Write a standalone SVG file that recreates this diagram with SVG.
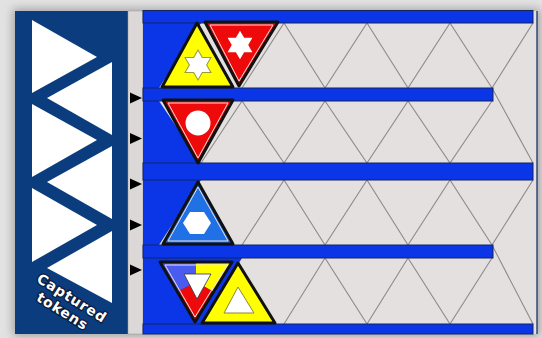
<svg xmlns="http://www.w3.org/2000/svg" width="542" height="338" viewBox="0 0 542 338">
  <defs>
    <filter id="sh" x="-10%" y="-10%" width="120%" height="120%">
      <feGaussianBlur stdDeviation="5"/>
    </filter>
    <path id="star" d="M0,-13 L3.75,-6.5 L11.26,-6.5 L7.5,0 L11.26,6.5 L3.75,6.5 L0,13 L-3.75,6.5 L-11.26,6.5 L-7.5,0 L-11.26,-6.5 L-3.75,-6.5 Z"/>
    <style>
      .navy{fill:#0b3d7e}
      .blue{fill:#0b36e8}
      .bar{fill:#0b36e8;stroke:#12245e;stroke-width:1}
      .cell{fill:#e4e0e0}
      .grid{fill:none;stroke:#8c8a8a;stroke-width:1.1}
      .wtri{fill:#ffffff}
      .arrow{fill:#000000}
      .tok{stroke:#111111;stroke-width:3;stroke-linejoin:round}
      .inner{fill:none;stroke:#f2dede;stroke-width:1;stroke-linejoin:round}
      .sym{fill:#ffffff}
      .cap{font-family:"DejaVu Sans","Liberation Sans",sans-serif;font-weight:bold;font-size:14px;fill:#ffffff;stroke:#0a1a3c;stroke-width:2.5;paint-order:stroke;text-anchor:middle;letter-spacing:0.8px}
    </style>
  </defs>

  <!-- background and shadow -->
  <rect x="0" y="0" width="542" height="338" fill="#e2e2e2"/>
  <rect x="13" y="9" width="527" height="327" fill="#6a6a6a" opacity="0.55" filter="url(#sh)"/>

  <!-- left captured panel -->
  <g id="captured-panel">
    <rect x="15" y="11" width="113" height="323" class="navy"/>
    <polygon class="wtri" points="32,20 97,57 32,93"/>
    <polygon class="wtri" points="32,104 97,140 32,177"/>
    <polygon class="wtri" points="32,188 97,225 32,262"/>
    <polygon class="wtri" points="112,62 47,98 112,135"/>
    <polygon class="wtri" points="112,146 47,182 112,219"/>
    <polygon class="wtri" points="112,231 47,268 112,303"/>
    <g transform="translate(72,298) rotate(32)">
      <text class="cap" x="0" y="5">Captured</text>
      <text class="cap" x="-1" y="21">tokens</text>
    </g>
  </g>

  <!-- separator strip with arrows -->
  <g id="arrow-strip">
    <rect x="128" y="11" width="15" height="323" fill="#dcd8d8" stroke="#9a9a9a" stroke-width="0.5"/>
    <polygon class="arrow" points="130,92.5 142,98 130,103.5"/>
    <polygon class="arrow" points="130,133 142,138.5 130,144"/>
    <polygon class="arrow" points="130,178.5 142,184 130,189.5"/>
    <polygon class="arrow" points="130,219.5 142,225 130,230.5"/>
    <polygon class="arrow" points="130,264.5 142,270 130,275.5"/>
  </g>

  <!-- main track board -->
  <g id="board">
    <rect x="143" y="11" width="394" height="323" class="blue"/>
    <path class="cell" d="M201,23 H537 V163 H201 L159,101 V88 Z"/>
    <path class="cell" d="M201,180 H537 V324 H201 L242,258 L242,245 L159,245 Z"/>
    <rect x="533" y="11" width="4" height="323" class="cell"/>
  </g>

  <g id="connectors">
    <polyline class="grid" points="242,88 284,23 325,88 367,23 408,88 450,23 492,88 533,23"/>
    <polyline class="grid" points="492,88 533,163"/>
    <polyline class="grid" points="201,163 242,101 284,163 325,101 367,163 408,101 450,163 492,101"/>
    <polyline class="grid" points="242,245 284,180 325,245 367,180 408,245 450,180 492,245 533,180"/>
    <polyline class="grid" points="492,245 533,324"/>
    <polyline class="grid" points="284,324 325,258 367,324 408,258 450,324 492,258"/>
  </g>

  <g id="bars">
    <rect x="143" y="10.5" width="390" height="12.5" class="bar"/>
    <rect x="143" y="88" width="350" height="13" class="bar"/>
    <rect x="143" y="163" width="390" height="17" class="bar"/>
    <rect x="143" y="245" width="350" height="13" class="bar"/>
    <rect x="143" y="324" width="390" height="10" class="bar"/>
    <line x1="537" y1="11" x2="537" y2="334" stroke="#12245e" stroke-width="1.2"/>
  </g>

  <!-- tokens -->
  <g id="token-yellow-star">
    <polygon class="tok" fill="#ffff00" points="162,87 197,23 233,87"/>
    <use href="#star" transform="translate(198,65) scale(1.15)" fill="#ffffff" stroke="#9a9a3a" stroke-width="0.9"/>
  </g>
  <g id="token-red-star">
    <polygon class="tok" fill="#ee0a0a" points="205,22 278,22 239,86"/>
    <polygon class="inner" points="210,25 273,25 239,81"/>
    <use href="#star" transform="translate(240,45) scale(1.1)" fill="#ffffff"/>
  </g>
  <g id="token-red-circle">
    <polygon class="tok" fill="#ee0a0a" points="163,100 233,100 198,163"/>
    <polygon class="inner" points="168,103 228,103 198,158"/>
    <circle cx="198" cy="123" r="12.5" class="sym"/>
  </g>
  <g id="token-blue-hexagon">
    <polygon class="tok" fill="#2070e6" points="163,244 198,182 233,244"/>
    <polygon class="inner" points="168,241 198,187 228,241"/>
    <polygon class="sym" points="211,223 204,234 190,234 183,223 190,212 204,212"/>
  </g>
  <g id="token-split">
    <polygon fill="#4a5cf0" points="160,262 196,262 196,282 177,292"/>
    <polygon fill="#ffff00" points="196,262 232,262 214,292 196,282"/>
    <polygon fill="#ee0a0a" points="177,292 196,282 214,292 195,322"/>
    <polygon class="tok" fill="none" points="160,262 232,262 195,322"/>
    <polygon class="inner" points="165,265 227,265 195,317"/>
    <polygon fill="#ffffff" stroke="#333333" stroke-width="0.8" points="184,274 211,274 197,299"/>
  </g>
  <g id="token-yellow-triangle">
    <polygon class="tok" fill="#ffff00" points="202,323 238,263 275,323"/>
    <polygon fill="#ffffff" stroke="#8a8a30" stroke-width="1" points="224,313 238,287 254,313"/>
  </g>
</svg>
